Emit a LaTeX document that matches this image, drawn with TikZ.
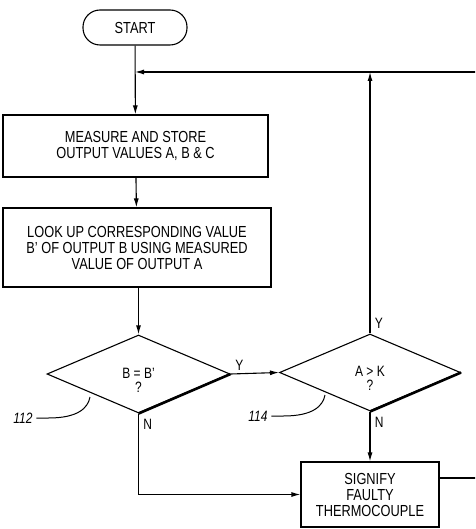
\documentclass[tikz,border=0pt]{standalone}
\usepackage{fontspec}
\setmainfont{Liberation Sans}[FakeStretch=0.8]
\usetikzlibrary{positioning, arrows.meta, shapes.geometric, calc}

\begin{document}
\begin{tikzpicture}[
      x=1pt, y=-1pt,
      every node/.style={font=\fontsize{16}{16}\selectfont},
      block/.style={draw, line width=1.1pt, align=center, inner sep=0pt},
      term/.style={draw, line width=1.1pt, rounded corners=17pt,
                   minimum width=104pt, minimum height=35pt},
      decide/.style={diamond, draw, line width=1.1pt, inner sep=0pt},
      ask/.style={font=\fontsize{15}{14}\selectfont, align=center, yshift=-6pt},
      lbl/.style={font=\fontsize{15}{16}\selectfont},
      ref/.style={font=\itshape\fontsize{15}{16}\selectfont},
      >={Latex[length=9pt, width=5pt]}, line width=1.1pt,
    ]
    \clip (0,0) rectangle (475,529);

    \node[term]  (start) at (135, 27.5)  {START};
    \node[block, minimum width=265pt, minimum height=62pt] (meas) at (135.5, 146)
      {MEASURE AND STORE\\OUTPUT VALUES A, B \& C};
    \node[block, minimum width=268pt, minimum height=79pt] (look) at (137, 247.5)
      {LOOK UP CORRESPONDING VALUE\\B' OF OUTPUT B USING MEASURED\\VALUE OF OUTPUT A};

    \node[decide, minimum width=183pt, minimum height=78pt,
          label={[ask]center:B = B'\\?}] (q1) at (138.5, 374) {};
    \node[decide, minimum width=181pt, minimum height=77pt,
          label={[ask]center:A > K\\?}] (q2) at (370, 372.5) {};

    \node[block, minimum width=138pt, minimum height=65pt] (sig) at (370, 494.5)
      {SIGNIFY\\FAULTY\\THERMOCOUPLE};

    % heavy lower-right edges
    \draw[line width=2.6pt] (q1.south) -- (q1.east);
    \draw[line width=2.6pt] (q2.south) -- (q2.east);

    \coordinate (loop) at (480, 72);
    \coordinate (back) at (480, 478);

    \draw[->] (start) -- (meas);
    \draw[->] (loop) -- (start.south |- loop);
    \draw[->] (meas) -- (look);
    \draw[->] (look.south -| q1.north) -- (q1.north);
    \draw[->] (q1.east) -- (q2.west)
      node[lbl, pos=0.1, above right=-1pt and -4pt] {Y};
    \draw[->] (q2.north) -- (q2.north |- loop)
      node[lbl, pos=0.04, right=1pt] {Y};
    \draw[->] (q2.south) -- (q2.south |- sig.north)
      node[lbl, pos=0.22, right=1pt] {N};
    \draw[->] (q1.south) |- (sig.west)
      node[lbl, at start, below right=2pt and 1pt] {N};
    \draw (sig.east |- back) -- (back);

    % reference numerals
    \node[ref] (n112) at (23, 418) {112};
    \node[ref] (n114) at (258, 416) {114};
    \draw[line width=1pt] (n112.east) -- ++(12,0) .. controls (78,418) and (88,408) .. (90,397);
    \draw[line width=1pt] (n114.east) -- ++(12,0) .. controls (313,416) and (323,406) .. (325,395);
\end{tikzpicture}
\end{document}
